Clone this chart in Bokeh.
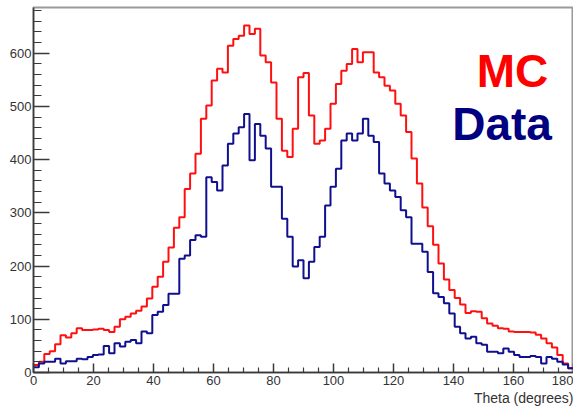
from bokeh.plotting import figure
from bokeh.models import Range1d, FixedTicker, Label, Title
from bokeh.embed import file_html
from bokeh.resources import INLINE

# Histogram: 100 bins of 1.8 degrees over 0..180
n_bins = 100
theta_min, theta_max = 0.0, 180.0

mc = [14, 20, 35, 40, 53, 70, 66, 74, 83, 80,
      80, 81, 82, 80, 76, 86, 100, 105, 111, 116,
      124, 139, 161, 180, 208, 235, 272, 292, 345, 374,
      411, 477, 502, 549, 571, 564, 614, 627, 633, 652,
      636, 646, 596, 583, 545, 477, 417, 405, 458, 555,
      563, 483, 430, 436, 458, 505, 542, 567, 580, 608,
      583, 602, 602, 564, 555, 539, 530, 505, 483, 452,
      402, 355, 310, 275, 240, 205, 175, 155, 140, 128,
      112, 115, 114, 102, 92, 88, 83, 82, 77, 76,
      76, 76, 75, 71, 64, 55, 47, 33, 17, 8]

data = [10, 17, 20, 20, 26, 17, 21, 21, 26, 25,
        29, 33, 34, 50, 36, 55, 49, 58, 61, 55,
        77, 74, 108, 114, 127, 148, 148, 214, 220, 249,
        258, 255, 367, 358, 342, 389, 430, 449, 461, 486,
        399, 467, 445, 421, 349, 349, 289, 255, 199, 211,
        177, 208, 236, 255, 314, 349, 383, 436, 449, 436,
        449, 477, 445, 433, 374, 355, 342, 330, 305, 292,
        242, 242, 227, 189, 149, 142, 130, 111, 86, 74,
        64, 67, 55, 52, 39, 39, 36, 45, 39, 33,
        29, 29, 31, 29, 17, 29, 26, 20, 15, 8]

x_ticks = [0, 20, 40, 60, 80, 100, 120, 140, 160, 180]
x_minor = [v for v in range(0, 181, 5) if v % 20 != 0]
y_ticks = [0, 100, 200, 300, 400, 500, 600]
y_minor = [v for v in range(0, 681, 20) if v % 100 != 0]

width = (theta_max - theta_min) / n_bins
edges = [theta_min + i * width for i in range(n_bins + 1)]

p = figure(width=573, height=406,
           x_range=Range1d(0, 180), y_range=Range1d(0, 686),
           output_backend="svg", toolbar_location=None,
           min_border_left=33, min_border_right=0,
           min_border_top=7, min_border_bottom=34)

p.background_fill_color = "white"
p.border_fill_color = "white"
p.outline_line_color = "#9a9a9a"
p.outline_line_width = 2
p.xgrid.visible = False
p.ygrid.visible = False

p.step(x=edges, y=mc + [mc[-1]], mode="after", line_color="#ff1010", line_width=2)
p.step(x=edges, y=data + [data[-1]], mode="after", line_color="#10108f", line_width=2)

p.xaxis.ticker = FixedTicker(ticks=x_ticks, minor_ticks=x_minor)
p.yaxis.ticker = FixedTicker(ticks=y_ticks, minor_ticks=y_minor)

for ax in (p.xaxis[0], p.yaxis[0]):
    ax.axis_line_color = "#3a3a3a"
    ax.axis_line_width = 1.5
    ax.major_tick_line_color = "#3a3a3a"
    ax.minor_tick_line_color = "#3a3a3a"
    ax.major_tick_line_width = 1.5
    ax.minor_tick_line_width = 1.2
    ax.major_tick_out = 0
    ax.minor_tick_out = 0
    ax.major_label_text_font = "Liberation Sans"
    ax.major_label_text_font_size = "13px"
    ax.major_label_text_color = "#333333"

p.xaxis.major_tick_in = 9
p.xaxis.minor_tick_in = 5
p.xaxis.major_label_standoff = 3
p.yaxis.major_tick_in = 16
p.yaxis.minor_tick_in = 8
p.yaxis.major_label_standoff = 2

xtitle = Title(text="Theta (degrees)", align="right", text_font="Liberation Sans",
               text_font_size="14px", text_font_style="normal", text_color="#333333",
               standoff=0, offset=0)
p.add_layout(xtitle, "below")

p.add_layout(Label(x=171.6, y=566, text="MC", text_align="right",
                   text_baseline="alphabetic", text_font="Liberation Sans",
                   text_font_style="bold", text_font_size="46px", text_color="#ff0000"))
p.add_layout(Label(x=172.8, y=467, text="Data", text_align="right",
                   text_baseline="alphabetic", text_font="Liberation Sans",
                   text_font_style="bold", text_font_size="46px", text_color="#000080"))

open("out.html", "w").write(file_html(p, INLINE))
